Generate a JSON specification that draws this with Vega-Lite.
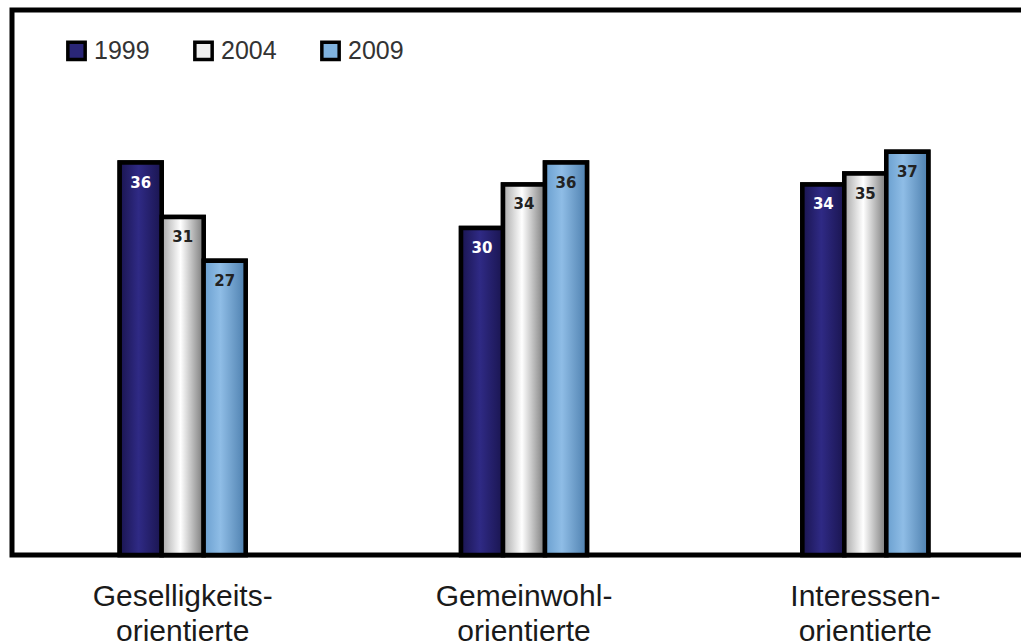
{
  "$schema": "https://vega.github.io/schema/vega-lite/v6.json",
  "autosize": {"type": "none"},
  "padding": {"left": 12, "top": 10, "right": 0, "bottom": 89},
  "width": 1024,
  "height": 545,
  "background": "white",
  "config": {
    "view": {"stroke": "black", "strokeWidth": 5},
    "font": "Liberation Sans"
  },
  "data": {
    "values": [
      {"type": "Geselligkeits-orientierte", "year": "1999", "value": 36},
      {"type": "Geselligkeits-orientierte", "year": "2004", "value": 31},
      {"type": "Geselligkeits-orientierte", "year": "2009", "value": 27},
      {"type": "Gemeinwohl-orientierte", "year": "1999", "value": 30},
      {"type": "Gemeinwohl-orientierte", "year": "2004", "value": 34},
      {"type": "Gemeinwohl-orientierte", "year": "2009", "value": 36},
      {"type": "Interessen-orientierte", "year": "1999", "value": 34},
      {"type": "Interessen-orientierte", "year": "2004", "value": 35},
      {"type": "Interessen-orientierte", "year": "2009", "value": 37}
    ]
  },
  "encoding": {
    "x": {
      "field": "type",
      "type": "nominal",
      "sort": null,
      "scale": {"paddingInner": 0.631, "paddingOuter": 0.3155},
      "axis": {
        "title": null,
        "domain": false,
        "ticks": false,
        "labelAngle": 0,
        "labelFont": "Liberation Sans",
        "labelFontSize": 30,
        "labelLimit": 500,
        "labelColor": "#1a1a1a",
        "labelPadding": 26,
        "labelBaseline": "top",
        "labelLineHeight": 35,
        "labelExpr": "[split(datum.value, '-')[0] + '-', split(datum.value, '-')[1]]"
      }
    },
    "xOffset": {"field": "year", "type": "nominal", "scale": {"paddingInner": 0, "paddingOuter": 0}},
    "y": {
      "field": "value",
      "type": "quantitative",
      "scale": {"domain": [0, 50], "nice": false},
      "axis": null
    }
  },
  "layer": [
    {
      "mark": {"type": "bar", "stroke": "black", "strokeWidth": 4.5},
      "encoding": {
        "fill": {
          "field": "year",
          "type": "nominal",
          "scale": {"domain": ["1999", "2004", "2009"], "range": ["#2a2677", "#eeeeee", "#7fb2de"]},
          "legend": {
            "title": null,
            "orient": "none",
            "legendX": 52,
            "legendY": 28,
            "direction": "horizontal",
            "padding": 0,
            "symbolType": "square",
            "symbolSize": 300,
            "symbolStrokeColor": "black",
            "symbolStrokeWidth": 3.5,
            "symbolOpacity": 1,
            "labelFont": "Liberation Sans",
            "labelFontSize": 25,
            "labelColor": "#333333",
            "labelOffset": 5,
            "columnPadding": 37
          }
        }
      }
    },
    {
      "mark": {"type": "bar", "stroke": "black", "strokeWidth": 4.5},
      "encoding": {
        "fill": {
          "condition": [
            {"test": "datum.year == '1999'", "value": {"gradient": "linear", "x1": 0, "x2": 1, "y1": 0, "y2": 0, "stops": [{"offset": 0, "color": "#1a1550"}, {"offset": 0.45, "color": "#2f2a85"}, {"offset": 1, "color": "#1a1550"}]}},
            {"test": "datum.year == '2004'", "value": {"gradient": "linear", "x1": 0, "x2": 1, "y1": 0, "y2": 0, "stops": [{"offset": 0, "color": "#a8a8a8"}, {"offset": 0.45, "color": "#ffffff"}, {"offset": 1, "color": "#7a7a7a"}]}}
          ],
          "value": {"gradient": "linear", "x1": 0, "x2": 1, "y1": 0, "y2": 0, "stops": [{"offset": 0, "color": "#6a9fcf"}, {"offset": 0.4, "color": "#8fbde6"}, {"offset": 1, "color": "#4d7fae"}]}
        }
      }
    },
    {
      "mark": {"type": "text", "baseline": "middle", "dy": 20, "font": "DejaVu Sans", "fontWeight": "bold", "fontSize": 15},
      "encoding": {
        "text": {"field": "value", "type": "quantitative"},
        "color": {"condition": {"test": "datum.year == '1999'", "value": "white"}, "value": "#222222"}
      }
    }
  ]
}
